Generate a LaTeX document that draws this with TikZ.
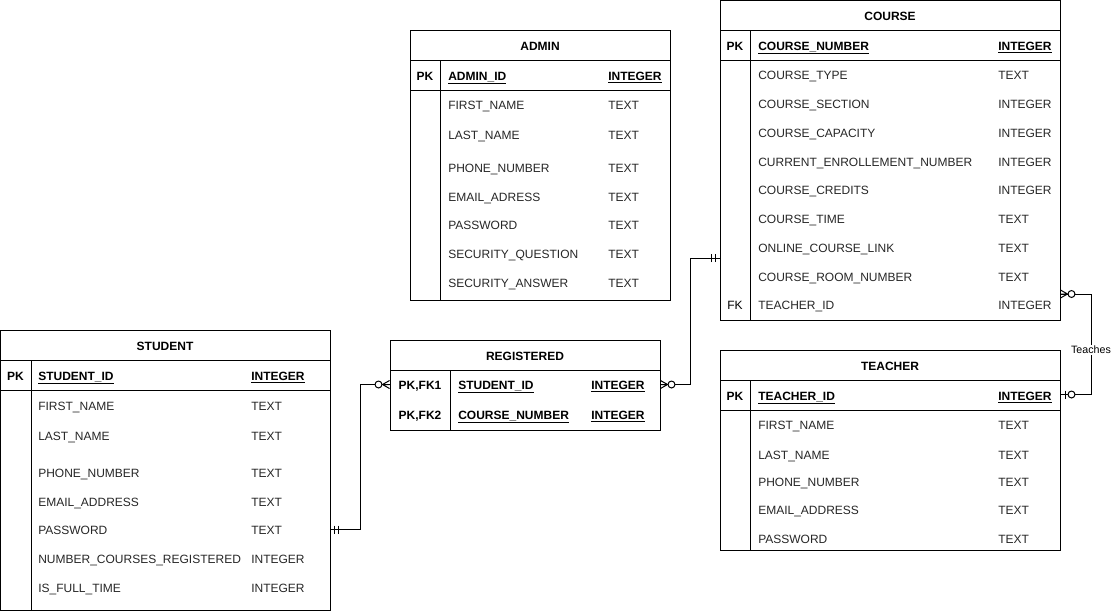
\documentclass[tikz,border=0pt]{standalone}
\usepackage{fontspec}
\setmainfont{Liberation Sans}
\usetikzlibrary{fit,calc}
\tikzset{
  tbl/.style={draw, line width=0.75pt, inner sep=0pt},
  conn/.style={line width=0.75pt},
  txt/.style={anchor=base west, inner sep=0pt, font=\fontsize{9}{11}\selectfont, text=black!85},
  keytxt/.style={anchor=base west, inner sep=0pt, font=\fontsize{9}{11}\selectfont\bfseries},
  hdr/.style={anchor=base, inner sep=0pt, font=\fontsize{9}{11}\selectfont\bfseries},
  pktxt/.style={anchor=base, inner sep=0pt, font=\fontsize{9}{11}\selectfont\bfseries},
  fktxt/.style={anchor=base, inner sep=0pt, font=\fontsize{9}{11}\selectfont},
  lbl/.style={inner sep=1pt, fill=white, font=\fontsize{8}{10}\selectfont},
  pics/onemark/.style={code={\draw[conn] (4,-4) -- (4,4) (8,-4) -- (8,4);}},
  pics/zmanymark/.style={code={\draw[conn] (0,-4) -- (7,0) -- (0,4) (0,0) -- (7,0);
      \draw[conn, fill=white] (11,0) circle[radius=2.6pt];}},
  pics/zonemark/.style={code={\draw[conn] (5,-4) -- (5,4);
      \draw[conn, fill=white] (11,0) circle[radius=2.6pt];}},
}
\begin{document}
\begin{tikzpicture}[x=0.75pt,y=-0.75pt]
\useasboundingbox (0,0) rectangle (1113,611);

% ---------------- STUDENT ----------------
\node[tbl, fit={(0.5,330) (330,610)}] (student) {};
\draw[conn] (0.5,360) -- (330,360) (0.5,390) -- (330,390) (31,360) -- (31,610);
\node[hdr] (stT) at (165,350) {STUDENT};
\node[pktxt] (stPK) at (15.5,380) {PK};
\node[keytxt] (stK) at (38,380) {\underline{STUDENT\_ID}};
\node[keytxt] (stKt) at (251,380) {\underline{INTEGER}};
\foreach \n/\t/\y [count=\i] in {FIRST\_NAME/TEXT/405, LAST\_NAME/TEXT/435, PHONE\_NUMBER/TEXT/472, EMAIL\_ADDRESS/TEXT/501, PASSWORD/TEXT/529, NUMBER\_COURSES\_REGISTERED/INTEGER/558, IS\_FULL\_TIME/INTEGER/587}
{ \node[txt] (stA\i) at (38,\y+5) {\n}; \node[txt] (stB\i) at (251,\y+5) {\t}; }

% ---------------- ADMIN ----------------
\node[tbl, fit={(410,30) (670,300)}] (admin) {};
\draw[conn] (410,60) -- (670,60) (410,90) -- (670,90) (440,60) -- (440,300);
\node[hdr] (adT) at (540,50) {ADMIN};
\node[pktxt] (adPK) at (425,80) {PK};
\node[keytxt] (adK) at (448,80) {\underline{ADMIN\_ID}};
\node[keytxt] (adKt) at (608,80) {\underline{INTEGER}};
\foreach \n/\t/\y [count=\i] in {FIRST\_NAME/TEXT/104, LAST\_NAME/TEXT/134, PHONE\_NUMBER/TEXT/167, EMAIL\_ADRESS/TEXT/196, PASSWORD/TEXT/224, SECURITY\_QUESTION/TEXT/253, SECURITY\_ANSWER/TEXT/282}
{ \node[txt] (adA\i) at (448,\y+5) {\n}; \node[txt] (adB\i) at (608,\y+5) {\t}; }

% ---------------- COURSE ----------------
\node[tbl, fit={(720,0.5) (1060,320)}] (course) {};
\draw[conn] (720,30) -- (1060,30) (720,60) -- (1060,60) (750,30) -- (750,320);
\node[hdr] (coT) at (890,20) {COURSE};
\node[pktxt] (coPK) at (735,50) {PK};
\node[keytxt] (coK) at (758,50) {\underline{COURSE\_NUMBER}};
\node[keytxt] (coKt) at (998,50) {\underline{INTEGER}};
\foreach \n/\t/\y [count=\i] in {COURSE\_TYPE/TEXT/74, COURSE\_SECTION/INTEGER/103, COURSE\_CAPACITY/INTEGER/132, CURRENT\_ENROLLEMENT\_NUMBER/INTEGER/161, COURSE\_CREDITS/INTEGER/189, COURSE\_TIME/TEXT/218, ONLINE\_COURSE\_LINK/TEXT/247, COURSE\_ROOM\_NUMBER/TEXT/276, TEACHER\_ID/INTEGER/304}
{ \node[txt] (coA\i) at (758,\y+5) {\n}; \node[txt] (coB\i) at (998,\y+5) {\t}; }
\node[fktxt] (coFK) at (735,309) {FK};

% ---------------- TEACHER ----------------
\node[tbl, fit={(720,350) (1060,550)}] (teacher) {};
\draw[conn] (720,380) -- (1060,380) (720,410) -- (1060,410) (750,380) -- (750,550);
\node[hdr] (teT) at (890,370) {TEACHER};
\node[pktxt] (tePK) at (735,400) {PK};
\node[keytxt] (teK) at (758,400) {\underline{TEACHER\_ID}};
\node[keytxt] (teKt) at (998,400) {\underline{INTEGER}};
\foreach \n/\t/\y [count=\i] in {FIRST\_NAME/TEXT/424, LAST\_NAME/TEXT/454, PHONE\_NUMBER/TEXT/481, EMAIL\_ADDRESS/TEXT/509, PASSWORD/TEXT/538}
{ \node[txt] (teA\i) at (758,\y+5) {\n}; \node[txt] (teB\i) at (998,\y+5) {\t}; }

% ---------------- REGISTERED ----------------
\node[tbl, fit={(390,340) (660,430)}] (registered) {};
\draw[conn] (390,370) -- (660,370) (450,370) -- (450,430);
\node[hdr] (rgT) at (525,360) {REGISTERED};
\node[pktxt] (rgP1) at (420,389) {PK,FK1};
\node[pktxt] (rgP2) at (420,419) {PK,FK2};
\node[keytxt] (rgA1) at (458,389) {\underline{STUDENT\_ID}};
\node[keytxt] (rgB1) at (591,389) {\underline{INTEGER}};
\node[keytxt] (rgA2) at (458,419) {\underline{COURSE\_NUMBER}};
\node[keytxt] (rgB2) at (591,419) {\underline{INTEGER}};

% ---------------- CONNECTORS ----------------
\draw[conn] ($(student.north east)+(0,200)$) -- ++(30,0) |- ($(registered.north west)+(0,45)$);
\pic at ($(student.north east)+(0,200)$) {onemark};
\pic[rotate=180] at ($(registered.north west)+(0,45)$) {zmanymark};

\draw[conn] ($(registered.north east)+(0,45)$) -- ++(30,0) |- ($(course.north west)+(0,258)$);
\pic at ($(registered.north east)+(0,45)$) {zmanymark};
\pic[rotate=180] at ($(course.north west)+(0,258)$) {onemark};

\draw[conn] ($(course.north east)+(0,294)$) -- ++(31,0) |- ($(teacher.north east)+(0,45)$);
\pic at ($(course.north east)+(0,294)$) {zmanymark};
\pic at ($(teacher.north east)+(0,45)$) {zonemark};
\node[lbl] (teaches) at (1091,350) {Teaches};
\end{tikzpicture}
\end{document}
